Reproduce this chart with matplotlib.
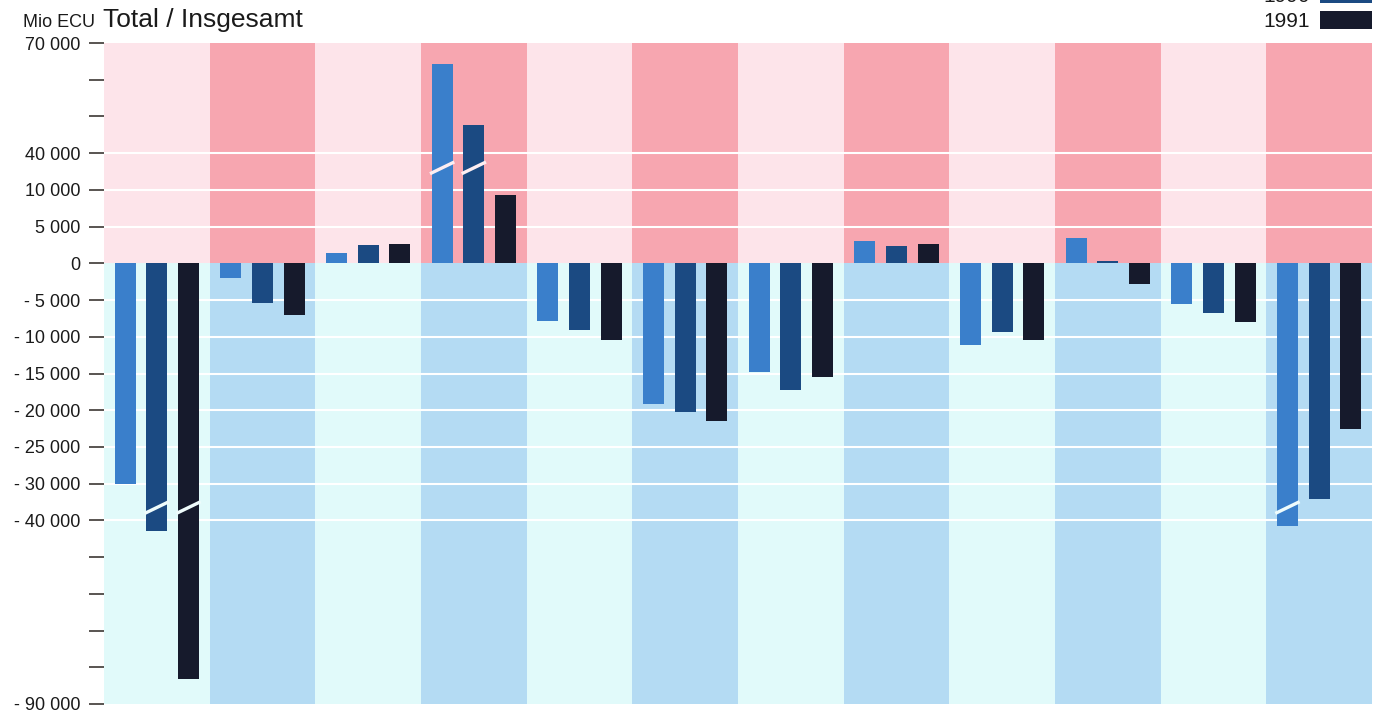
import numpy as np
import matplotlib
matplotlib.use("Agg")
import matplotlib.pyplot as plt

# ---------------- data ----------------
years = ["1989", "1990", "1991"]
values_1989 = [-30200, -1950, 1400, 64400, -7800, -19200, -14800, 3000, -11100, 3500, -5600, -41400]
values_1990 = [-42800, -5400, 2450, 47600, -9100, -20200, -17200, 2300, -9300, 300, -6800, -34100]
values_1991 = [-83200, -7100, 2700, 9350, -10400, -21400, -15500, 2700, -10400, -2800, -8000, -22500]

tick_values = [70000, 60000, 50000, 40000, 10000, 5000, 0, -5000, -10000, -15000,
               -20000, -25000, -30000, -40000, -50000, -60000, -70000, -80000, -90000]
tick_labels = ["70 000", "", "", "40 000", "10 000", "5 000", "0", "- 5 000", "- 10 000",
               "- 15 000", "- 20 000", "- 25 000", "- 30 000", "- 40 000", "", "", "", "",
               "- 90 000"]
grid_values = [40000, 10000, 5000, -5000, -10000, -15000, -20000, -25000, -30000, -40000]

# broken axis: value breakpoints -> display units
brk_vals = [-90000, -40000, -30000, 10000, 40000, 70000]
brk_units = [-12, -7, -6, 2, 3, 6]

def fwd(v):
    return np.interp(v, brk_vals, brk_units)

def inv(u):
    return np.interp(u, brk_units, brk_vals)

# ---------------- style ----------------
bar_colors = ["#3a7fcb", "#1b4a82", "#161a2c"]
pink_light, pink_dark = "#fde4ea", "#f7a6b0"
blue_light, blue_dark = "#e1fafa", "#b4dbf3"

W, H = 1383, 715
fig = plt.figure(figsize=(W / 100, H / 100), dpi=100)
ax = fig.add_axes([104 / W, (H - 704) / H, (1372 - 104) / W, (704 - 43) / H])
ax.set_yscale("function", functions=(fwd, inv))
ax.set_xlim(-0.5, 11.5)
ax.set_ylim(-90000, 70000)

n = len(values_1989)
x = np.arange(n)
y0_frac = (0 - brk_units[0]) / (brk_units[-1] - brk_units[0])
for i in range(n):
    dark = (i % 2 == 1)
    ax.axvspan(i - 0.5, i + 0.5, ymin=y0_frac, ymax=1,
               color=pink_dark if dark else pink_light, lw=0, zorder=0)
    ax.axvspan(i - 0.5, i + 0.5, ymin=0, ymax=y0_frac,
               color=blue_dark if dark else blue_light, lw=0, zorder=0)

for g in grid_values:
    ax.axhline(g, color="white", lw=1.5, zorder=1)

offsets = [-0.3, 0.0, 0.3]
series = [values_1989, values_1990, values_1991]
containers = []
for s, off, c, lab in zip(series, offsets, bar_colors, years):
    bc = ax.bar(x + off, s, width=0.2, color=c, zorder=3, label=lab, linewidth=0)
    containers.append(bc)
    # break marks on bars that cross an axis break
    for xi, v in zip(x + off, s):
        if v > 40000:
            uc, col = 2.6, "#fdeef2"
        elif v < -40000:
            uc, col = -6.65, "#effcfc"
        else:
            continue
        ax.plot([xi - 0.115, xi + 0.115], [inv(uc - 0.16), inv(uc + 0.16)],
                color=col, lw=2.4, zorder=4, solid_capstyle="butt")

for sp in ax.spines.values():
    sp.set_visible(False)
ax.set_xticks([])
ax.set_yticks(tick_values)
ax.set_yticklabels(tick_labels)
ax.yaxis.set_minor_locator(matplotlib.ticker.NullLocator())
ax.tick_params(axis="y", length=11, width=1.1, color="#2b2622", pad=6,
               labelsize=13, labelcolor="#1a1a1a")
for t in ax.get_yticklabels():
    t.set_fontfamily("Liberation Sans")

fig.text(23 / W, (H - 27) / H, "Mio ECU", fontsize=13, family="Liberation Sans",
         color="#1a1a1a", va="baseline", ha="left")
fig.text(103 / W, (H - 27) / H, "Total / Insgesamt", fontsize=19,
         family="Liberation Sans", color="#1a1a1a", va="baseline", ha="left")

leg = fig.legend(handles=containers, labels=years, loc="lower right",
                 bbox_to_anchor=(1372 / W, (H - 31) / H), bbox_transform=fig.transFigure,
                 frameon=False, markerfirst=False, borderpad=0, borderaxespad=0,
                 handlelength=2.5, handleheight=0.95, handletextpad=0.48,
                 labelspacing=0.25,
                 prop={"family": "Liberation Sans", "size": 15})
for t in leg.get_texts():
    t.set_color("#1a1a1a")

fig.savefig("out.png", dpi=100)
